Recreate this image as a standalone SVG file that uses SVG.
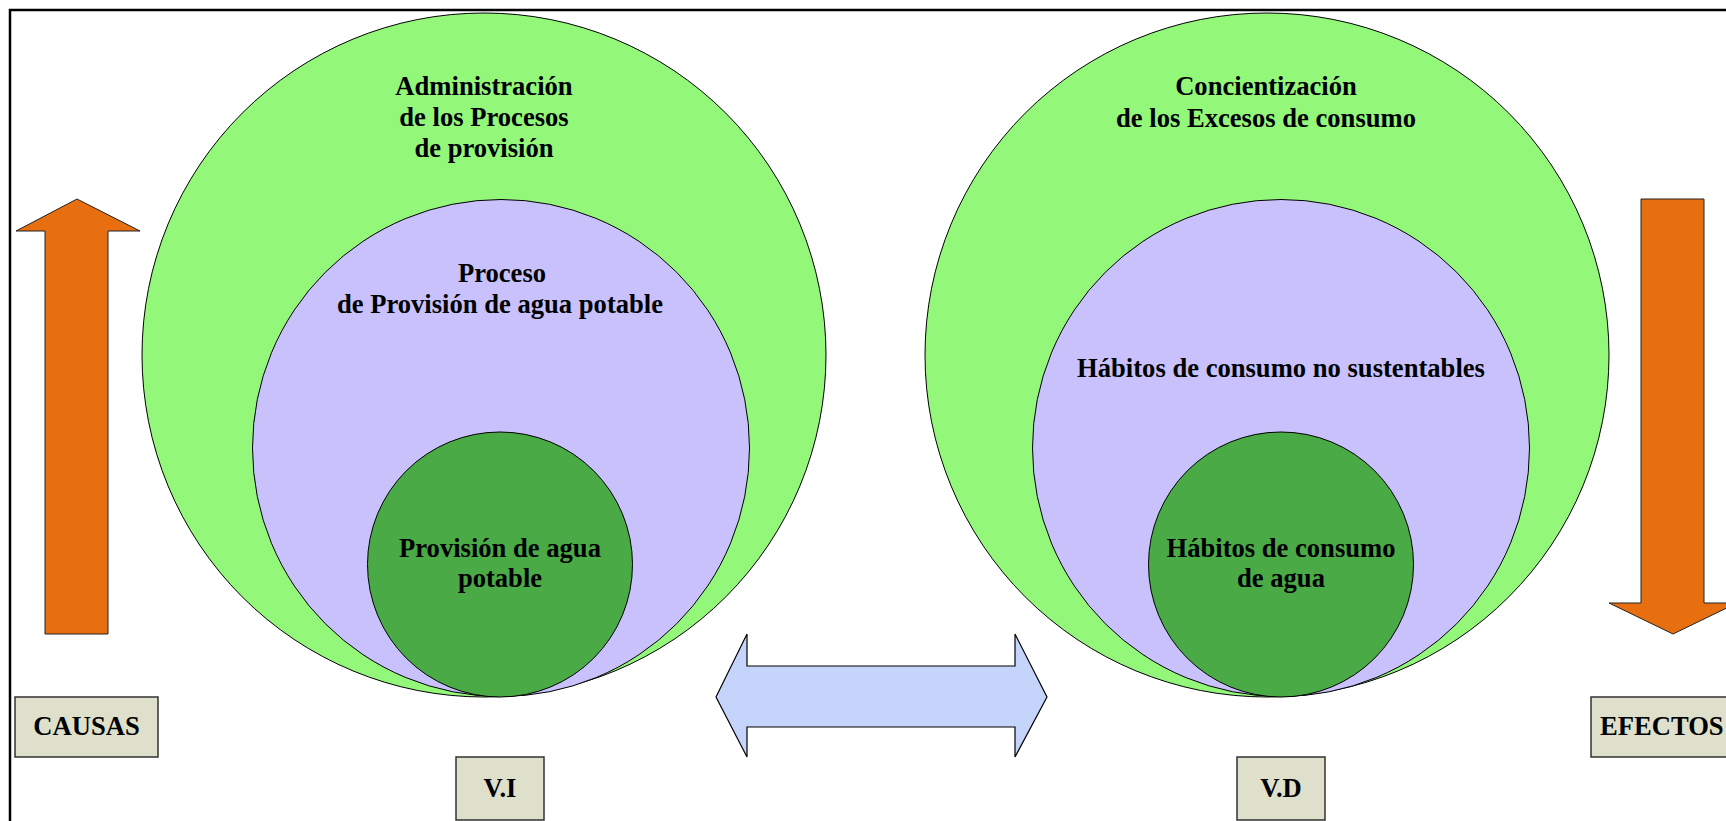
<svg xmlns="http://www.w3.org/2000/svg" width="1726" height="821" viewBox="0 0 1726 821">
<style>
  .t{font-family:"Liberation Serif","Times New Roman",serif;font-weight:bold;font-size:26.6px;fill:#000;text-anchor:middle}
  .outer{fill:#93F77A;stroke:#000;stroke-width:1}
  .mid{fill:#C8C1FC;stroke:#000;stroke-width:1}
  .inner{fill:#4AAA45;stroke:#000;stroke-width:1}
  .box{fill:#DEE0CC;stroke:#333;stroke-width:1.5}
  .orange{fill:#E86F0F;stroke:#222;stroke-width:1}
  .blue{fill:#C4D4FB;stroke:#000;stroke-width:1.2}
</style>
<rect x="0" y="0" width="1726" height="821" fill="#fff"/>
<rect id="frame" x="10" y="10" width="1740" height="830" fill="none" stroke="#000" stroke-width="2.5"/>

<g id="vi-outer">
  <circle class="outer" cx="484" cy="355" r="342"/>
  <text class="t" x="484" y="95">Administración</text>
  <text class="t" x="484" y="126">de los Procesos</text>
  <text class="t" x="484" y="157">de provisión</text>
</g>
<g id="vi-mid">
  <circle class="mid" cx="501" cy="448" r="248.5"/>
  <text class="t" x="502" y="282">Proceso</text>
  <text class="t" x="500" y="313">de Provisión de agua potable</text>
</g>
<g id="vi-inner">
  <circle class="inner" cx="500" cy="564.5" r="132.5"/>
  <text class="t" x="500" y="557">Provisión de agua</text>
  <text class="t" x="500" y="587">potable</text>
</g>

<g id="vd-outer">
  <circle class="outer" cx="1267" cy="355" r="342"/>
  <text class="t" x="1266" y="95">Concientización</text>
  <text class="t" x="1266" y="127">de los Excesos de consumo</text>
</g>
<g id="vd-mid">
  <circle class="mid" cx="1281" cy="448" r="248.5"/>
  <text class="t" x="1281" y="377">Hábitos de consumo no sustentables</text>
</g>
<g id="vd-inner">
  <circle class="inner" cx="1281" cy="564.5" r="132.5"/>
  <text class="t" x="1281" y="557">Hábitos de consumo</text>
  <text class="t" x="1281" y="587">de agua</text>
</g>

<g id="connectors">
  <polygon class="orange" points="77,199 140,231 108,231 108,634 45,634 45,231 16,231"/>
  <polygon class="orange" points="1641,199 1704,199 1704,603 1737,603 1673,634 1609,603 1641,603"/>
  <polygon class="blue" points="716,697 747,634 747,666 1015,666 1015,634 1047,697 1015,757 1015,727 747,727 747,757"/>
</g>

<g id="causas">
  <rect class="box" x="15" y="697" width="143" height="60"/>
  <text class="t" x="86.5" y="735">CAUSAS</text>
</g>
<g id="vi">
  <rect class="box" x="456" y="757" width="88" height="63"/>
  <text class="t" x="500" y="797">V.I</text>
</g>
<g id="vd">
  <rect class="box" x="1237" y="757" width="88" height="63"/>
  <text class="t" x="1281" y="797">V.D</text>
</g>
<g id="efectos">
  <rect class="box" x="1591" y="697" width="150" height="60"/>
  <text class="t" x="1600" y="735" style="text-anchor:start">EFECTOS</text>
</g>
</svg>
